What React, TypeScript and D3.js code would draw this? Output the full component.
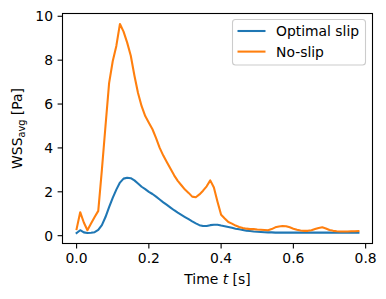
import React from "react";
import * as d3 from "d3";

const times: number[] = d3.range(0, 79).map((i) => +(i * 0.01).toFixed(2));

const noSlip: number[] = [
  0.30, 1.07, 0.60, 0.25, 0.55, 0.85, 1.13, 3.0, 5.0, 6.95,
  7.95, 8.65, 9.65, 9.3, 8.8, 8.2, 7.3, 6.5, 5.9, 5.45,
  5.15, 4.85, 4.45, 4.0, 3.65, 3.35, 3.05, 2.75, 2.5, 2.3,
  2.1, 1.95, 1.78, 1.75, 1.88, 2.05, 2.25, 2.52, 2.2, 1.55,
  0.95, 0.78, 0.62, 0.55, 0.46, 0.4, 0.35, 0.32, 0.3, 0.3,
  0.28, 0.27, 0.26, 0.25, 0.3, 0.38, 0.42, 0.44, 0.43, 0.38,
  0.32, 0.27, 0.24, 0.22, 0.22, 0.25, 0.3, 0.35, 0.38, 0.33,
  0.26, 0.22, 0.2, 0.19, 0.19, 0.19, 0.2, 0.2, 0.21,
];

const optimalSlip: number[] = [
  0.12, 0.25, 0.15, 0.12, 0.13, 0.16, 0.26, 0.48, 0.85, 1.3,
  1.72, 2.1, 2.42, 2.6, 2.64, 2.62, 2.52, 2.38, 2.23, 2.12,
  2.0, 1.9, 1.78, 1.65, 1.52, 1.4, 1.28, 1.16, 1.05, 0.95,
  0.85, 0.75, 0.65, 0.56, 0.48, 0.44, 0.44, 0.48, 0.5, 0.5,
  0.46, 0.43, 0.4, 0.36, 0.32, 0.29, 0.26, 0.23, 0.21, 0.19,
  0.18, 0.17, 0.16, 0.15, 0.15, 0.14, 0.14, 0.14, 0.14, 0.14,
  0.14, 0.14, 0.14, 0.14, 0.14, 0.14, 0.14, 0.14, 0.14, 0.14,
  0.14, 0.13, 0.13, 0.13, 0.13, 0.13, 0.13, 0.13, 0.13,
];

const xTicks = [0.0, 0.2, 0.4, 0.6, 0.8];
const yTicks = [0, 2, 4, 6, 8, 10];
const seriesNames = ["Optimal slip", "No-slip"];
const colors = ["#1f77b4", "#ff7f0e"];

const W = 386;
const H = 299;
const L = 62.5, R = 372.5, T = 13.5, B = 243.5;
const FONT = "DejaVu Sans, sans-serif";
const FS = 13.9;

export default function App() {
  const xMin = d3.min(times)!, xMax = d3.max(times)!;
  const allY = [...noSlip, ...optimalSlip];
  const yMin = d3.min(allY)!, yMax = d3.max(allY)!;
  const xm = (xMax - xMin) * 0.05;
  const ym = (yMax - yMin) * 0.05;
  const x = d3.scaleLinear().domain([xMin - xm, xMax + xm]).range([L, R]);
  const y = d3.scaleLinear().domain([yMin - ym, yMax + ym]).range([B, T]);

  const line = d3
    .line<number>()
    .x((_, i) => x(times[i]))
    .y((d) => y(d));

  const series = [optimalSlip, noSlip];

  return (
    <svg
      width={W}
      height={H}
      style={{ position: "absolute", left: 0, top: 0, background: "#fff" }}
      fontFamily={FONT}
    >
      <rect x={0} y={0} width={W} height={H} fill="#fff" />
      {series.map((s, k) => (
        <path
          key={k}
          d={line(s)!}
          fill="none"
          stroke={colors[k]}
          strokeWidth={2.08}
          strokeLinejoin="round"
          strokeLinecap="square"
        />
      ))}
      <rect x={L} y={T} width={R - L} height={B - T} fill="none" stroke="#000" strokeWidth={1.1} />
      {xTicks.map((t) => (
        <g key={"x" + t}>
          <line x1={x(t)} x2={x(t)} y1={B} y2={B + 4.9} stroke="#000" strokeWidth={1.1} />
          <text x={x(t)} y={B + 19.5} fontSize={FS} textAnchor="middle" fill="#000">
            {t.toFixed(1)}
          </text>
        </g>
      ))}
      {yTicks.map((t) => (
        <g key={"y" + t}>
          <line x1={L - 4.9} x2={L} y1={y(t)} y2={y(t)} stroke="#000" strokeWidth={1.1} />
          <text x={L - 9.5} y={y(t) + 5} fontSize={FS} textAnchor="end" fill="#000">
            {t}
          </text>
        </g>
      ))}
      <text x={(L + R) / 2} y={284} fontSize={FS} textAnchor="middle" fill="#000">
        Time <tspan fontStyle="italic">t</tspan> [s]
      </text>
      <text
        transform={`translate(22,${(T + B) / 2}) rotate(-90)`}
        fontSize={FS}
        textAnchor="middle"
        fill="#000"
      >
        WSS<tspan fontSize={FS * 0.7} dy={3}>avg</tspan>
        <tspan dy={-3}> [Pa]</tspan>
      </text>
      <g>
        <rect
          x={232.5}
          y={19.5}
          width={133}
          height={45.5}
          rx={3}
          fill="#fff"
          fillOpacity={0.8}
          stroke="#cccccc"
          strokeWidth={1.1}
        />
        {seriesNames.map((n, k) => (
          <g key={n}>
            <line
              x1={237.5}
              x2={265.5}
              y1={31 + k * 20.6}
              y2={31 + k * 20.6}
              stroke={colors[k]}
              strokeWidth={2.08}
            />
            <text x={276} y={36 + k * 20.6} fontSize={FS} fill="#000">
              {n}
            </text>
          </g>
        ))}
      </g>
    </svg>
  );
}
